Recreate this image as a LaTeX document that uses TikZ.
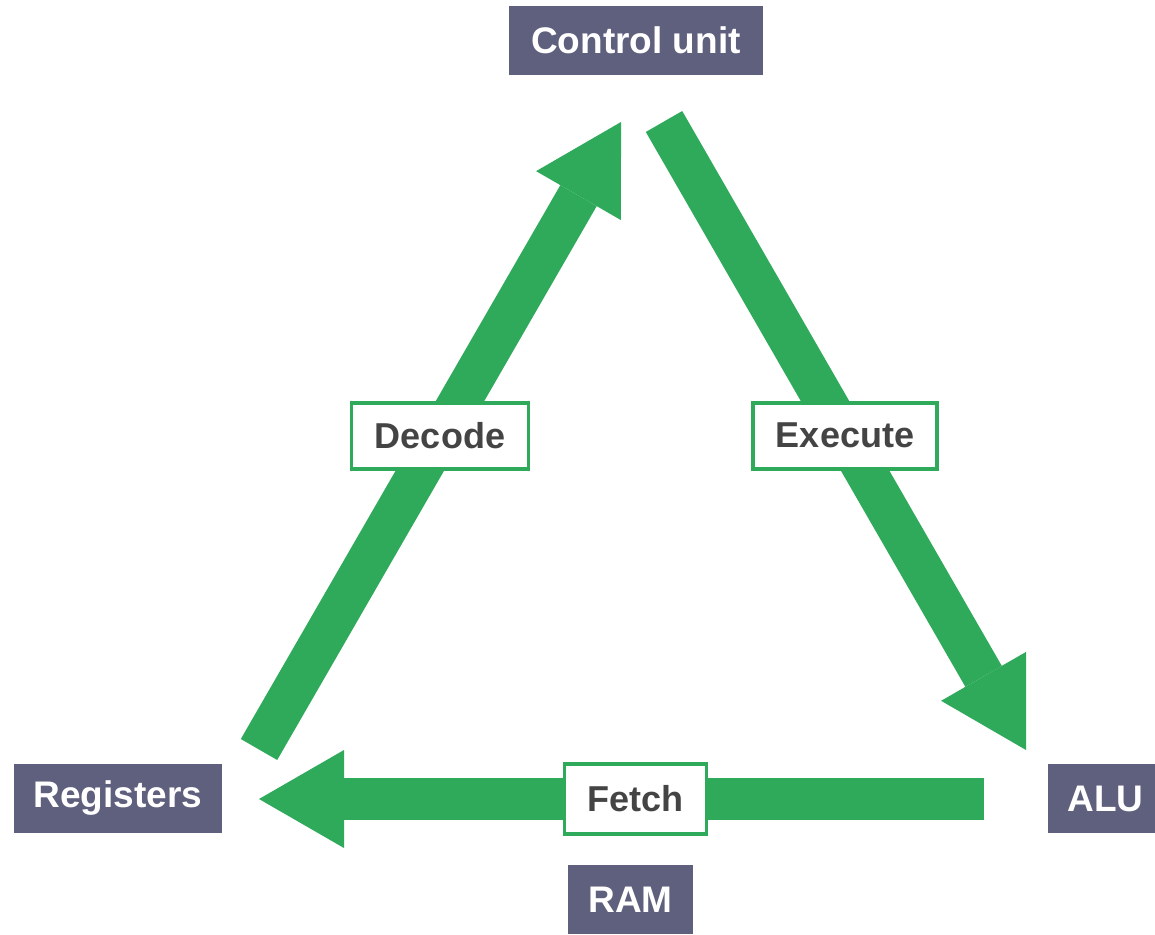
\documentclass[tikz,border=0pt]{standalone}
\usepackage{fontspec}
\setmainfont{Liberation Sans}
\usetikzlibrary{arrows.meta, positioning}

\definecolor{unitgray}{HTML}{5F5F7E}
\definecolor{cyclegreen}{HTML}{2EAA5A}
\definecolor{labeltext}{HTML}{444444}

\begin{document}
\begin{tikzpicture}[x=1pt,y=-1pt,
    unit/.style={fill=unitgray, text=white, inner sep=0pt, minimum height=69pt,
      font=\fontsize{37}{42}\selectfont\bfseries},
    stage/.style={draw=cyclegreen, line width=3.5pt, fill=white, text=labeltext, inner sep=0pt,
      minimum height=66pt, font=\fontsize{36}{41}\selectfont\bfseries},
    cycle/.style={cyclegreen, line width=42pt,
      -{Triangle[length=85pt, width=98pt, line width=0pt]}}]

    \useasboundingbox (0,0) rectangle (1155,934);

    % Units
    \node[unit, minimum width=254pt] (control) at (636,40.5) {Control unit};
    \node[unit, minimum width=208pt] (registers) at (118,798.5) {Registers};
    \node[unit, minimum width=115pt] (alu) at (1105.5,798.5) {ALU};
    \node[unit, minimum width=125pt] (ram) at (630.5,899.5) {RAM};

    % Arrow ends
    \coordinate (decodeStart) at (259,749.5);
    \coordinate (decodeEnd) at (621,122);
    \coordinate (executeStart) at (664,121.5);
    \coordinate (executeEnd) at (1026,750);
    \coordinate (fetchStart) at (984,799);
    \coordinate (fetchEnd) at (259,799);

    % Cycle
    \draw[cycle] (decodeStart) -- node[stage, minimum width=177pt] (decode) {Decode} (decodeEnd);
    \draw[cycle] (executeStart) -- node[stage, minimum width=184pt] (execute) {Execute} (executeEnd);
    \draw[cycle] (fetchStart) -- node[stage, pos=0.481, minimum width=142pt, minimum height=70pt] (fetch) {Fetch} (fetchEnd);
\end{tikzpicture}
\end{document}
